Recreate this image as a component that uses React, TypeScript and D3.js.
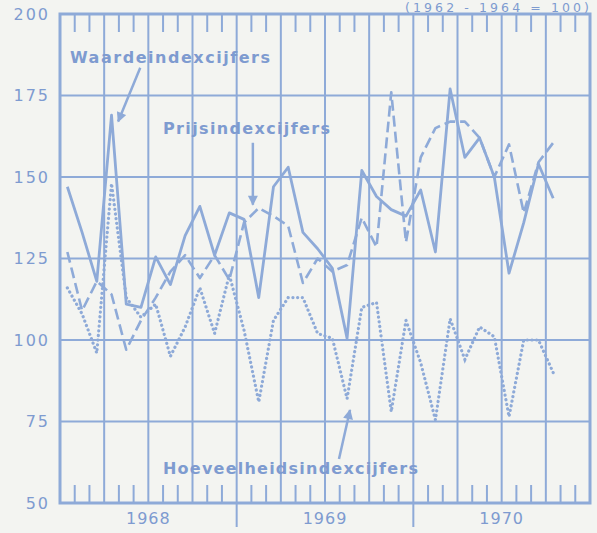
import React from 'react';
import * as d3 from 'd3';

// maanden jan 1968 .. okt 1970 (index 0 = jan 1968)
const waarde = [
  147, 133, 118, 169, 111, 110, 125.5, 117, 132, 141, 126, 139,
  137, 113, 147, 153, 133, 128, 122, 100.5, 152, 144, 140, 138,
  146, 127, 177, 156, 162, 150, 120.5, 136, 154, 143.5,
];
const prijs = [
  127, 109, 118, 114, 97, 106, 113, 121, 126, 119, 126, 118.5,
  136, 140.5, 138, 135, 117.5, 125, 121, 123, 137.5, 128.5, 176, 130,
  156, 165, 167, 167, 162, 150, 160, 139, 154.5, 160.5,
];
const hoeveelheid = [
  116, 108, 96, 148, 113, 107, 111, 95, 104, 116, 102, 120,
  103, 81, 106, 113, 113, 102, 100.5, 82, 110, 111.5, 78, 106,
  93, 75.5, 106.5, 94, 104, 101, 76.5, 100, 100, 90,
];

const yTicks = [50, 75, 100, 125, 150, 175, 200];
const years = ['1968', '1969', '1970'];
const monthCount = 36;

const W = 597;
const H = 533;
const BLUE = '#8eaad8';
const TEXT = '#7e9bd0';

export default function App() {
  const margin = { top: 14, right: 7, bottom: 30, left: 60 };
  const x = d3.scaleLinear().domain([0, monthCount]).range([margin.left, W - margin.right]);
  const y = d3.scaleLinear().domain([50, 200]).range([H - margin.bottom, margin.top]);

  const line = d3
    .line<number>()
    .x((_, i) => x(i + 0.5))
    .y((d) => y(d));

  const months = d3.range(monthCount + 1);
  const quarters = months.filter((m) => m % 3 === 0);
  const minor = months.filter((m) => m % 3 !== 0);

  const top = y(200);
  const bottom = y(50);
  const tickLen = 18;

  // pijltjes in data-coördinaten [maand, waarde]
  const arrows = [
    { from: [5.45, 183.5], to: [3.95, 167] },
    { from: [13.1, 160.5], to: [13.1, 141.5] },
    { from: [18.95, 63.5], to: [19.7, 78.5] },
  ];

  const font = '"DejaVu Sans", sans-serif';

  return (
    <svg
      width={W}
      height={H}
      style={{ position: 'absolute', left: 0, top: 0 }}
      fontFamily={font}
    >
      <defs>
        <marker
          id="head"
          viewBox="0 0 10 10"
          refX="9"
          refY="5"
          markerWidth="5"
          markerHeight="4"
          orient="auto"
          markerUnits="strokeWidth"
        >
          <path d="M0,0 L10,5 L0,10 z" fill={BLUE} />
        </marker>
      </defs>
      <rect width={W} height={H} fill="#f3f4f1" />

      {/* horizontale rasterlijnen */}
      {yTicks.slice(1, -1).map((t) => (
        <line key={'h' + t} x1={x(0)} x2={x(monthCount)} y1={y(t)} y2={y(t)} stroke={BLUE} strokeWidth={2} />
      ))}
      {/* verticale rasterlijnen per kwartaal */}
      {quarters.slice(1, -1).map((m) => (
        <line
          key={'q' + m}
          x1={x(m)}
          x2={x(m)}
          y1={top}
          y2={m % 12 === 0 ? bottom + 24 : bottom}
          stroke={BLUE}
          strokeWidth={2}
        />
      ))}
      {/* maandstreepjes boven en onder */}
      {minor.map((m) => (
        <g key={'m' + m}>
          <line x1={x(m)} x2={x(m)} y1={top} y2={top + tickLen} stroke={BLUE} strokeWidth={2} />
          <line x1={x(m)} x2={x(m)} y1={bottom} y2={bottom - tickLen} stroke={BLUE} strokeWidth={2} />
        </g>
      ))}
      <rect
        x={x(0)}
        y={top}
        width={x(monthCount) - x(0)}
        height={bottom - top}
        fill="none"
        stroke={BLUE}
        strokeWidth={3}
      />

      {/* y-as labels */}
      {yTicks.map((t) => (
        <text
          key={'yl' + t}
          x={50}
          y={y(t)}
          dy="0.36em"
          textAnchor="end"
          fontSize={16}
          letterSpacing={2}
          fill={TEXT}
        >
          {t}
        </text>
      ))}
      {years.map((yr, i) => (
        <text
          key={yr}
          x={x(i * 12 + 6)}
          y={524}
          textAnchor="middle"
          fontSize={16}
          letterSpacing={1}
          fill={TEXT}
        >
          {yr}
        </text>
      ))}

      {/* reeksen */}
      <path d={line(hoeveelheid) ?? ''} fill="none" stroke={BLUE} strokeWidth={3.2} strokeDasharray="0.1 4.6" strokeLinecap="round" />
      <path d={line(prijs) ?? ''} fill="none" stroke={BLUE} strokeWidth={2.6} strokeDasharray="11 5" strokeLinejoin="round" />
      <path d={line(waarde) ?? ''} fill="none" stroke={BLUE} strokeWidth={2.8} strokeLinejoin="round" />

      {/* pijlen */}
      {arrows.map((a, i) => (
        <line
          key={'a' + i}
          x1={x(a.from[0])}
          y1={y(a.from[1])}
          x2={x(a.to[0])}
          y2={y(a.to[1])}
          stroke={BLUE}
          strokeWidth={2.5}
          markerEnd="url(#head)"
        />
      ))}

      {/* teksten */}
      <text x={70} y={63} fontSize={16} fontWeight="bold" textLength={200} lengthAdjust="spacing" fill={TEXT}>
        Waardeindexcijfers
      </text>
      <text x={163} y={134} fontSize={16} fontWeight="bold" textLength={167} lengthAdjust="spacing" fill={TEXT}>
        Prijsindexcijfers
      </text>
      <text x={163} y={474} fontSize={16} fontWeight="bold" textLength={255} lengthAdjust="spacing" fill={TEXT}>
        Hoeveelheidsindexcijfers
      </text>
      <text x={405} y={12} fontSize={12.5} textLength={184} lengthAdjust="spacing" fill={TEXT}>
        (1962 - 1964 = 100)
      </text>
    </svg>
  );
}
